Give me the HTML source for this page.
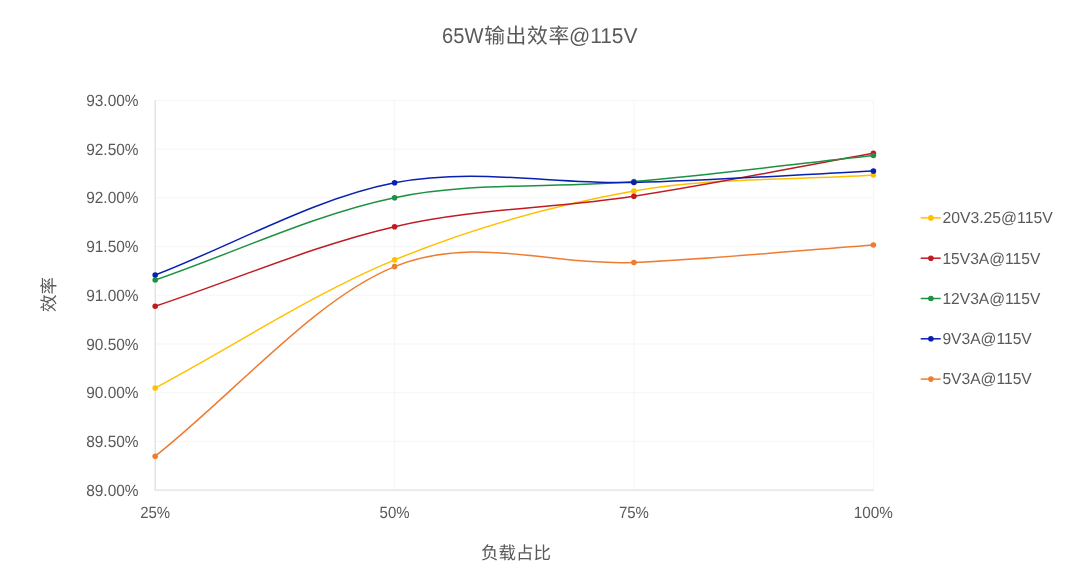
<!DOCTYPE html>
<html lang="zh-CN"><head><meta charset="utf-8"><title>65W输出效率@115V</title>
<style>html,body{margin:0;padding:0;background:#fff;}body{width:1080px;height:586px;overflow:hidden;}svg{display:block;will-change:transform;}text{font-family:"Liberation Sans", "Noto Sans CJK SC", sans-serif;fill:#595959;text-rendering:geometricPrecision;}</style>
</head><body>
<svg width="1080" height="586" viewBox="0 0 1080 586">
<rect width="1080" height="586" fill="#ffffff"/>
<g stroke="#f5f5f5" stroke-width="1" fill="none">
<line x1="155.2" y1="100.50" x2="873.9" y2="100.50"/>
<line x1="155.2" y1="149.20" x2="873.9" y2="149.20"/>
<line x1="155.2" y1="197.90" x2="873.9" y2="197.90"/>
<line x1="155.2" y1="246.60" x2="873.9" y2="246.60"/>
<line x1="155.2" y1="295.30" x2="873.9" y2="295.30"/>
<line x1="155.2" y1="344.00" x2="873.9" y2="344.00"/>
<line x1="155.2" y1="392.70" x2="873.9" y2="392.70"/>
<line x1="155.2" y1="441.40" x2="873.9" y2="441.40"/>
<line x1="394.60" y1="100" x2="394.60" y2="490.1"/>
<line x1="633.90" y1="100" x2="633.90" y2="490.1"/>
<line x1="873.40" y1="100" x2="873.40" y2="490.1"/>
</g>
<g stroke="#e0e0e0" stroke-width="1.3" fill="none">
<line x1="155.2" y1="100.2" x2="155.2" y2="490.7"/>
<line x1="154.7" y1="490.1" x2="873.9" y2="490.1"/>
</g>
<g stroke="#FFC000" fill="#FFC000">
<path d="M155.20 387.95 C235.00 345.27 314.82 292.71 394.60 259.90 C474.38 227.09 554.10 205.25 633.90 191.10 C713.70 176.95 793.57 180.37 873.40 175.00" fill="none" stroke-width="1.5" stroke-linecap="round" stroke-linejoin="round"/>
<circle cx="155.20" cy="387.95" r="2.8" stroke="none"/>
<circle cx="394.60" cy="259.90" r="2.8" stroke="none"/>
<circle cx="633.90" cy="191.10" r="2.8" stroke="none"/>
<circle cx="873.40" cy="175.00" r="2.8" stroke="none"/>
</g>
<g stroke="#BF1C22" fill="#BF1C22">
<path d="M155.20 306.27 C235.00 279.75 314.82 245.05 394.60 226.70 C474.38 208.36 554.10 208.45 633.90 196.20 C713.70 183.95 793.57 167.53 873.40 153.20" fill="none" stroke-width="1.5" stroke-linecap="round" stroke-linejoin="round"/>
<circle cx="155.20" cy="306.27" r="2.8" stroke="none"/>
<circle cx="394.60" cy="226.70" r="2.8" stroke="none"/>
<circle cx="633.90" cy="196.20" r="2.8" stroke="none"/>
<circle cx="873.40" cy="153.20" r="2.8" stroke="none"/>
</g>
<g stroke="#1C9142" fill="#1C9142">
<path d="M155.20 280.00 C235.00 252.57 314.82 214.12 394.60 197.70 C474.38 181.28 554.10 188.53 633.90 181.50 C713.70 174.47 793.57 164.17 873.40 155.50" fill="none" stroke-width="1.5" stroke-linecap="round" stroke-linejoin="round"/>
<circle cx="155.20" cy="280.00" r="2.8" stroke="none"/>
<circle cx="394.60" cy="197.70" r="2.8" stroke="none"/>
<circle cx="633.90" cy="181.50" r="2.8" stroke="none"/>
<circle cx="873.40" cy="155.50" r="2.8" stroke="none"/>
</g>
<g stroke="#0820B0" fill="#0820B0">
<path d="M155.20 275.00 C235.00 244.27 314.82 198.22 394.60 182.80 C474.38 167.38 554.10 184.47 633.90 182.50 C713.70 180.53 793.57 174.80 873.40 170.95" fill="none" stroke-width="1.5" stroke-linecap="round" stroke-linejoin="round"/>
<circle cx="155.20" cy="275.00" r="2.8" stroke="none"/>
<circle cx="394.60" cy="182.80" r="2.8" stroke="none"/>
<circle cx="633.90" cy="182.50" r="2.8" stroke="none"/>
<circle cx="873.40" cy="170.95" r="2.8" stroke="none"/>
</g>
<g stroke="#ED7D31" fill="#ED7D31">
<path d="M155.20 456.20 C235.00 393.00 314.82 298.88 394.60 266.60 C474.38 234.32 554.10 266.10 633.90 262.50 C713.70 258.90 793.57 250.83 873.40 245.00" fill="none" stroke-width="1.5" stroke-linecap="round" stroke-linejoin="round"/>
<circle cx="155.20" cy="456.20" r="2.8" stroke="none"/>
<circle cx="394.60" cy="266.60" r="2.8" stroke="none"/>
<circle cx="633.90" cy="262.50" r="2.8" stroke="none"/>
<circle cx="873.40" cy="245.00" r="2.8" stroke="none"/>
</g>
<text x="442.0" y="42.5" font-size="21.4"><tspan textLength="41.4" lengthAdjust="spacingAndGlyphs">65W</tspan><tspan x="484.2" font-size="20.8" letter-spacing="0.6">输出效率</tspan><tspan x="568.9" textLength="68.6" lengthAdjust="spacingAndGlyphs">@115V</tspan></text>
<text x="138.6" y="106.00" font-size="16.2" text-anchor="end" textLength="52.4" lengthAdjust="spacingAndGlyphs">93.00%</text>
<text x="138.6" y="154.70" font-size="16.2" text-anchor="end" textLength="52.4" lengthAdjust="spacingAndGlyphs">92.50%</text>
<text x="138.6" y="203.40" font-size="16.2" text-anchor="end" textLength="52.4" lengthAdjust="spacingAndGlyphs">92.00%</text>
<text x="138.6" y="252.10" font-size="16.2" text-anchor="end" textLength="52.4" lengthAdjust="spacingAndGlyphs">91.50%</text>
<text x="138.6" y="300.80" font-size="16.2" text-anchor="end" textLength="52.4" lengthAdjust="spacingAndGlyphs">91.00%</text>
<text x="138.6" y="349.50" font-size="16.2" text-anchor="end" textLength="52.4" lengthAdjust="spacingAndGlyphs">90.50%</text>
<text x="138.6" y="398.20" font-size="16.2" text-anchor="end" textLength="52.4" lengthAdjust="spacingAndGlyphs">90.00%</text>
<text x="138.6" y="446.90" font-size="16.2" text-anchor="end" textLength="52.4" lengthAdjust="spacingAndGlyphs">89.50%</text>
<text x="138.6" y="495.60" font-size="16.2" text-anchor="end" textLength="52.4" lengthAdjust="spacingAndGlyphs">89.00%</text>
<text x="155.20" y="517.7" font-size="16.2" text-anchor="middle" textLength="30.0" lengthAdjust="spacingAndGlyphs">25%</text>
<text x="394.60" y="517.7" font-size="16.2" text-anchor="middle" textLength="30.0" lengthAdjust="spacingAndGlyphs">50%</text>
<text x="633.90" y="517.7" font-size="16.2" text-anchor="middle" textLength="30.0" lengthAdjust="spacingAndGlyphs">75%</text>
<text x="873.40" y="517.7" font-size="16.2" text-anchor="middle" textLength="39.2" lengthAdjust="spacingAndGlyphs">100%</text>
<text x="516.0" y="558.6" font-size="17.5" text-anchor="middle">负载占比</text>
<text transform="translate(54.8 294.5) rotate(-90)" font-size="17.5" text-anchor="middle">效率</text>
<g stroke="#FFC000" fill="#FFC000"><line x1="920.7" y1="217.90" x2="940.7" y2="217.90" stroke-width="1.5"/><circle cx="930.9" cy="217.90" r="2.8" stroke="none"/></g>
<text x="942.4" y="223.20" font-size="15.9" textLength="110.3" lengthAdjust="spacingAndGlyphs">20V3.25@115V</text>
<g stroke="#BF1C22" fill="#BF1C22"><line x1="920.7" y1="258.20" x2="940.7" y2="258.20" stroke-width="1.5"/><circle cx="930.9" cy="258.20" r="2.8" stroke="none"/></g>
<text x="942.4" y="263.50" font-size="15.9" textLength="97.9" lengthAdjust="spacingAndGlyphs">15V3A@115V</text>
<g stroke="#1C9142" fill="#1C9142"><line x1="920.7" y1="298.50" x2="940.7" y2="298.50" stroke-width="1.5"/><circle cx="930.9" cy="298.50" r="2.8" stroke="none"/></g>
<text x="942.4" y="303.80" font-size="15.9" textLength="97.9" lengthAdjust="spacingAndGlyphs">12V3A@115V</text>
<g stroke="#0820B0" fill="#0820B0"><line x1="920.7" y1="338.80" x2="940.7" y2="338.80" stroke-width="1.5"/><circle cx="930.9" cy="338.80" r="2.8" stroke="none"/></g>
<text x="942.4" y="344.10" font-size="15.9" textLength="89.4" lengthAdjust="spacingAndGlyphs">9V3A@115V</text>
<g stroke="#ED7D31" fill="#ED7D31"><line x1="920.7" y1="379.10" x2="940.7" y2="379.10" stroke-width="1.5"/><circle cx="930.9" cy="379.10" r="2.8" stroke="none"/></g>
<text x="942.4" y="384.40" font-size="15.9" textLength="89.4" lengthAdjust="spacingAndGlyphs">5V3A@115V</text>
</svg>
</body></html>
